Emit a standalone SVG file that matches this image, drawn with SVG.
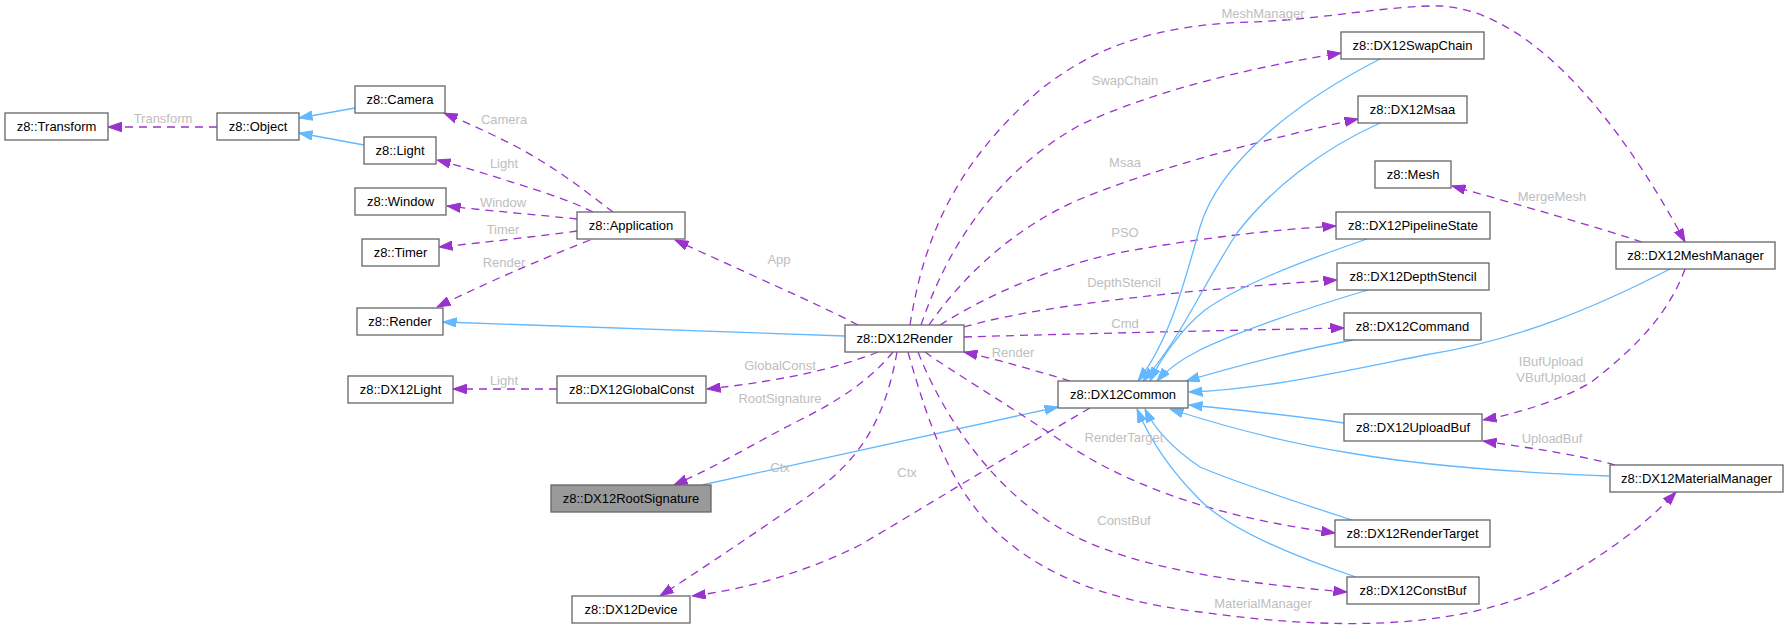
<svg xmlns="http://www.w3.org/2000/svg" width="1788" height="640" viewBox="0 0 1788 640">
<style>
.node rect{fill:#ffffff;stroke:#666666;stroke-width:1.3}
.node.main rect{fill:#999999}
.node text{font-family:"Liberation Sans",Arial,sans-serif;font-size:13px;fill:#000000;text-anchor:middle}
.use{fill:none;stroke:#9a32cd;stroke-width:1.3;stroke-dasharray:8,6;marker-end:url(#ap)}
.inh{fill:none;stroke:#63b8ff;stroke-width:1.3;marker-end:url(#ab)}
.lbl{font-family:"Liberation Sans",Arial,sans-serif;font-size:13px;fill:#bebebe;text-anchor:middle}
</style>
<defs>
<marker id="ap" markerUnits="userSpaceOnUse" markerWidth="14" markerHeight="10" refX="13.5" refY="5" orient="auto" viewBox="0 0 14 10"><path d="M0,0.3 L13.5,5 L0,9.7 z" fill="#9a32cd" stroke="#9a32cd" stroke-width="1"/></marker>
<marker id="ab" markerUnits="userSpaceOnUse" markerWidth="14" markerHeight="10" refX="13.5" refY="5" orient="auto" viewBox="0 0 14 10"><path d="M0,0.3 L13.5,5 L0,9.7 z" fill="#63b8ff" stroke="#63b8ff" stroke-width="1"/></marker>
</defs>
<rect width="1788" height="640" fill="#ffffff"/>
<g id="edges">
<path class="use" d="M217,127 L108,127"/>
<path class="inh" d="M355,108 L299,118"/>
<path class="inh" d="M364,145 L299,133"/>
<path class="use" d="M613,212 C590,195 560,170 517,147 C490,133 465,122 444,113"/>
<path class="use" d="M593,212 C570,200 530,188 505,180 C480,172 460,166 437,160"/>
<path class="use" d="M577,219 C540,215 480,210 447,206"/>
<path class="use" d="M577,231 C540,236 480,243 439,247"/>
<path class="use" d="M590,240 C560,252 500,276 437,307"/>
<path class="use" d="M858,325 C820,305 740,270 675,240"/>
<path class="inh" d="M845,336 L443,322"/>
<path class="use" d="M557,389 L453,389"/>
<path class="use" d="M878,352 C840,367 790,380 707,389"/>
<path class="use" d="M893,352 C870,380 840,400 800,420 C760,440 720,465 674,485"/>
<path class="use" d="M897,352 C885,420 860,460 810,495 C760,530 700,570 660,596"/>
<path class="use" d="M1090,408 C1000,460 920,510 860,545 C800,575 740,590 692,596"/>
<path class="inh" d="M702,485 L1058,407"/>
<path class="use" d="M1070,381 C1040,372 1000,360 964,352"/>
<path class="use" d="M964,337 C1100,333 1250,330 1344,328"/>
<path class="use" d="M921,325 C950,240 1000,170 1080,125 C1160,88 1260,66 1341,53"/>
<path class="use" d="M929,325 C960,280 1010,230 1078,200 C1150,170 1260,140 1358,119"/>
<path class="use" d="M940,325 C980,300 1040,270 1117,253 C1200,238 1270,230 1336,226"/>
<path class="use" d="M964,327 C1020,310 1150,292 1337,280"/>
<path class="use" d="M910,325 C925,230 960,160 1040,90 C1090,50 1150,25 1250,22 C1320,20 1390,5 1440,6 C1530,10 1620,120 1685,242"/>
<path class="use" d="M925,352 C950,370 1000,400 1060,440 C1120,480 1200,515 1335,533"/>
<path class="use" d="M918,352 C945,420 990,480 1040,515 C1100,560 1200,580 1347,592"/>
<path class="use" d="M908,352 C930,430 950,480 985,520 C1030,570 1100,600 1200,612 C1330,630 1450,630 1540,590 C1600,560 1645,525 1676,492"/>
<path class="use" d="M1642,242 C1600,228 1520,205 1452,186"/>
<path class="use" d="M1685,269 C1670,310 1640,345 1590,383 C1560,400 1520,413 1483,420"/>
<path class="use" d="M1615,465 C1580,455 1530,448 1483,441"/>
<path class="inh" d="M1380,59 C1300,100 1220,160 1200,227 C1185,280 1170,340 1138,381"/>
<path class="inh" d="M1380,123 C1320,150 1270,190 1237,233 C1200,290 1180,340 1143,381"/>
<path class="inh" d="M1367,239 C1300,262 1240,285 1205,310 C1180,330 1160,360 1150,381"/>
<path class="inh" d="M1368,290 C1300,310 1230,335 1200,350 C1180,360 1165,372 1157,381"/>
<path class="inh" d="M1353,340 C1300,350 1240,365 1186,381"/>
<path class="inh" d="M1670,269 C1600,305 1520,340 1425,355 C1340,372 1260,390 1189,392"/>
<path class="inh" d="M1344,423 C1290,415 1240,410 1189,405"/>
<path class="inh" d="M1609,476 C1500,472 1420,465 1350,453 C1280,442 1220,425 1170,409"/>
<path class="inh" d="M1352,520 C1290,500 1230,480 1200,467 C1175,450 1155,430 1145,409"/>
<path class="inh" d="M1356,577 C1290,555 1230,530 1200,500 C1170,470 1150,440 1137,409"/>
<text class="lbl" x="163" y="123">Transform</text>
<text class="lbl" x="504" y="124">Camera</text>
<text class="lbl" x="504" y="168">Light</text>
<text class="lbl" x="503" y="207">Window</text>
<text class="lbl" x="503" y="234">Timer</text>
<text class="lbl" x="504" y="267">Render</text>
<text class="lbl" x="779" y="264">App</text>
<text class="lbl" x="504" y="385">Light</text>
<text class="lbl" x="780" y="370">GlobalConst</text>
<text class="lbl" x="780" y="403">RootSignature</text>
<text class="lbl" x="780" y="472">Ctx</text>
<text class="lbl" x="907" y="477">Ctx</text>
<text class="lbl" x="1013" y="357">Render</text>
<text class="lbl" x="1125" y="328">Cmd</text>
<text class="lbl" x="1124" y="442">RenderTarget</text>
<text class="lbl" x="1124" y="525">ConstBuf</text>
<text class="lbl" x="1263" y="608">MaterialManager</text>
<text class="lbl" x="1125" y="85">SwapChain</text>
<text class="lbl" x="1125" y="167">Msaa</text>
<text class="lbl" x="1125" y="237">PSO</text>
<text class="lbl" x="1124" y="287">DepthStencil</text>
<text class="lbl" x="1263" y="18">MeshManager</text>
<text class="lbl" x="1552" y="201">MergeMesh</text>
<text class="lbl" x="1551" y="366">IBufUpload</text>
<text class="lbl" x="1551" y="382">VBufUpload</text>
<text class="lbl" x="1552" y="443">UploadBuf</text>
</g>
<g id="Transform" class="node"><rect x="5" y="113" width="103" height="27"/><text x="56.5" y="131">z8::Transform</text></g>
<g id="Object" class="node"><rect x="217" y="113" width="82" height="27"/><text x="258" y="131">z8::Object</text></g>
<g id="Camera" class="node"><rect x="355" y="86" width="90" height="27"/><text x="400" y="104">z8::Camera</text></g>
<g id="Light" class="node"><rect x="364" y="137" width="72" height="27"/><text x="400" y="155">z8::Light</text></g>
<g id="Window" class="node"><rect x="355" y="188" width="91" height="27"/><text x="400.5" y="206">z8::Window</text></g>
<g id="Timer" class="node"><rect x="362" y="239" width="77" height="27"/><text x="400.5" y="257">z8::Timer</text></g>
<g id="Render" class="node"><rect x="357" y="308" width="86" height="27"/><text x="400" y="326">z8::Render</text></g>
<g id="DX12Light" class="node"><rect x="348" y="376" width="105" height="27"/><text x="400.5" y="394">z8::DX12Light</text></g>
<g id="Application" class="node"><rect x="577" y="212" width="108" height="27"/><text x="631" y="230">z8::Application</text></g>
<g id="DX12GlobalConst" class="node"><rect x="557" y="376" width="149" height="27"/><text x="631.5" y="394">z8::DX12GlobalConst</text></g>
<g id="DX12RootSignature" class="node main"><rect x="551" y="485" width="160" height="27"/><text x="631" y="503">z8::DX12RootSignature</text></g>
<g id="DX12Device" class="node"><rect x="572" y="596" width="118" height="27"/><text x="631" y="614">z8::DX12Device</text></g>
<g id="DX12Render" class="node"><rect x="845" y="325" width="119" height="27"/><text x="904.5" y="343">z8::DX12Render</text></g>
<g id="DX12Common" class="node"><rect x="1058" y="381" width="130" height="27"/><text x="1123" y="399">z8::DX12Common</text></g>
<g id="DX12SwapChain" class="node"><rect x="1341" y="32" width="143" height="27"/><text x="1412.5" y="50">z8::DX12SwapChain</text></g>
<g id="DX12Msaa" class="node"><rect x="1358" y="96" width="109" height="27"/><text x="1412.5" y="114">z8::DX12Msaa</text></g>
<g id="Mesh" class="node"><rect x="1375" y="161" width="76" height="27"/><text x="1413" y="179">z8::Mesh</text></g>
<g id="DX12PipelineState" class="node"><rect x="1336" y="212" width="154" height="27"/><text x="1413" y="230">z8::DX12PipelineState</text></g>
<g id="DX12DepthStencil" class="node"><rect x="1337" y="263" width="152" height="27"/><text x="1413" y="281">z8::DX12DepthStencil</text></g>
<g id="DX12Command" class="node"><rect x="1344" y="313" width="137" height="27"/><text x="1412.5" y="331">z8::DX12Command</text></g>
<g id="DX12UploadBuf" class="node"><rect x="1344" y="414" width="138" height="27"/><text x="1413" y="432">z8::DX12UploadBuf</text></g>
<g id="DX12RenderTarget" class="node"><rect x="1335" y="520" width="155" height="27"/><text x="1412.5" y="538">z8::DX12RenderTarget</text></g>
<g id="DX12ConstBuf" class="node"><rect x="1347" y="577" width="132" height="27"/><text x="1413" y="595">z8::DX12ConstBuf</text></g>
<g id="DX12MeshManager" class="node"><rect x="1616" y="242" width="159" height="27"/><text x="1695.5" y="260">z8::DX12MeshManager</text></g>
<g id="DX12MaterialManager" class="node"><rect x="1610" y="465" width="173" height="27"/><text x="1696.5" y="483">z8::DX12MaterialManager</text></g>
</svg>
